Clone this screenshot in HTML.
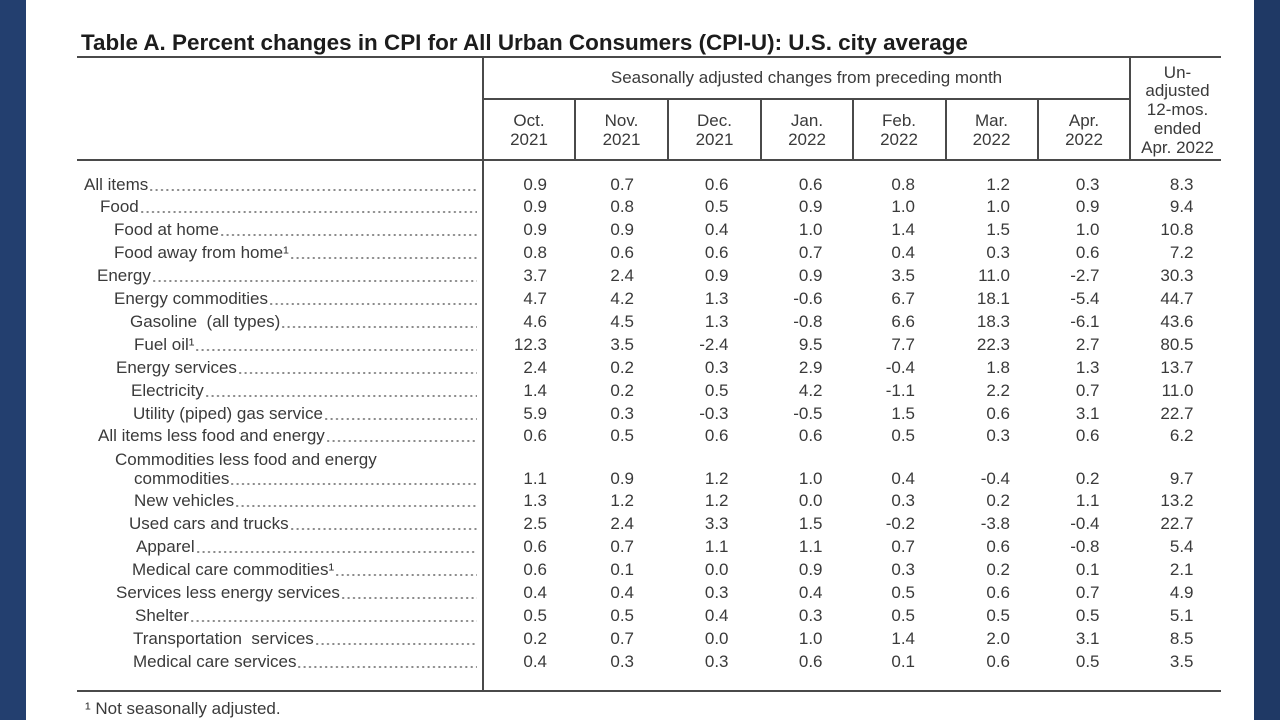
<!DOCTYPE html>
<html>
<head>
<meta charset="utf-8">
<style>
html,body{margin:0;padding:0}
body{width:1280px;height:720px;position:relative;overflow:hidden;background:#fff;font-family:"Liberation Sans",Arial,sans-serif;color:#3a3a3a}
.bandL{position:absolute;left:0;top:0;width:26px;height:720px;background:#233f6f}
.bandR{position:absolute;left:1254px;top:0;width:26px;height:720px;background:#1f3965}
.h{position:absolute;background:#4a4a4a;height:2px}
.vl{position:absolute;background:#4a4a4a;width:2px}
.title{position:absolute;left:81px;top:30px;font-size:22.45px;font-weight:bold;color:#1c1c1c;white-space:nowrap;line-height:26px}
.t{position:absolute;font-size:17px;line-height:19px;white-space:nowrap;text-align:center}
.r{position:absolute;left:0;width:1280px;height:20px;line-height:20px;font-size:17px}
.lab{position:absolute;top:0;height:20px;display:flex;align-items:flex-end;right:803px}
.lab span{white-space:nowrap;line-height:20px}
.lab i{flex:1;height:2px;margin:0 0 4px 2px;background:radial-gradient(circle at 1.2px 1px,#8a8a8a 0.9px,transparent 1.4px) repeat-x;background-size:5.4px 2px}
.r b{position:absolute;top:0;font-weight:normal}
.c1{right:733px}.c2{right:646px}.c3{right:551.5px}.c4{right:457.5px}
.c5{right:365px}.c6{right:270px}.c7{right:180.5px}.c8{right:86.5px}
.foot{position:absolute;left:85px;top:699px;font-size:17px;line-height:20px;white-space:nowrap}
</style>
</head>
<body>
<div class="bandL"></div>
<div class="bandR"></div>

<div class="title">Table A. Percent changes in CPI for All Urban Consumers (CPI-U): U.S. city average</div>

<!-- lines -->
<div class="h" style="left:77px;top:56px;width:1144px"></div>
<div class="vl" style="left:482px;top:56px;height:635px"></div>
<div class="vl" style="left:1129px;top:56px;height:104px"></div>
<div class="h" style="left:482px;top:97.5px;width:648px"></div>
<div class="vl" style="left:574px;top:98px;height:62px"></div>
<div class="vl" style="left:667px;top:98px;height:62px"></div>
<div class="vl" style="left:760px;top:98px;height:62px"></div>
<div class="vl" style="left:852px;top:98px;height:62px"></div>
<div class="vl" style="left:944.5px;top:98px;height:62px"></div>
<div class="vl" style="left:1037px;top:98px;height:62px"></div>
<div class="h" style="left:77px;top:158.5px;width:1144px"></div>
<div class="h" style="left:77px;top:689.5px;width:1144px"></div>

<!-- header text -->
<div class="t" style="left:483px;width:647px;top:67.5px">Seasonally adjusted changes from preceding month</div>
<div class="t" style="left:483px;width:92px;top:110.5px">Oct.<br>2021</div>
<div class="t" style="left:575px;width:93px;top:110.5px">Nov.<br>2021</div>
<div class="t" style="left:668px;width:93px;top:110.5px">Dec.<br>2021</div>
<div class="t" style="left:761px;width:92px;top:110.5px">Jan.<br>2022</div>
<div class="t" style="left:853px;width:92px;top:110.5px">Feb.<br>2022</div>
<div class="t" style="left:945px;width:93px;top:110.5px">Mar.<br>2022</div>
<div class="t" style="left:1038px;width:92px;top:110.5px">Apr.<br>2022</div>
<div class="t" style="left:1131px;width:93px;top:63.5px;line-height:18.8px">Un-<br>adjusted<br>12-mos.<br>ended<br>Apr. 2022</div>

<!-- rows -->
<div class="r" style="top:174.5px"><div class="lab" style="left:84px"><span>All items</span><i></i></div><b class="c1">0.9</b><b class="c2">0.7</b><b class="c3">0.6</b><b class="c4">0.6</b><b class="c5">0.8</b><b class="c6">1.2</b><b class="c7">0.3</b><b class="c8">8.3</b></div>
<div class="r" style="top:197.4px"><div class="lab" style="left:100px"><span>Food</span><i></i></div><b class="c1">0.9</b><b class="c2">0.8</b><b class="c3">0.5</b><b class="c4">0.9</b><b class="c5">1.0</b><b class="c6">1.0</b><b class="c7">0.9</b><b class="c8">9.4</b></div>
<div class="r" style="top:220.3px"><div class="lab" style="left:114px"><span>Food at home</span><i></i></div><b class="c1">0.9</b><b class="c2">0.9</b><b class="c3">0.4</b><b class="c4">1.0</b><b class="c5">1.4</b><b class="c6">1.5</b><b class="c7">1.0</b><b class="c8">10.8</b></div>
<div class="r" style="top:243.2px"><div class="lab" style="left:114px"><span>Food away from home¹</span><i></i></div><b class="c1">0.8</b><b class="c2">0.6</b><b class="c3">0.6</b><b class="c4">0.7</b><b class="c5">0.4</b><b class="c6">0.3</b><b class="c7">0.6</b><b class="c8">7.2</b></div>
<div class="r" style="top:266.1px"><div class="lab" style="left:97px"><span>Energy</span><i></i></div><b class="c1">3.7</b><b class="c2">2.4</b><b class="c3">0.9</b><b class="c4">0.9</b><b class="c5">3.5</b><b class="c6">11.0</b><b class="c7">-2.7</b><b class="c8">30.3</b></div>
<div class="r" style="top:289px"><div class="lab" style="left:114px"><span>Energy commodities</span><i></i></div><b class="c1">4.7</b><b class="c2">4.2</b><b class="c3">1.3</b><b class="c4">-0.6</b><b class="c5">6.7</b><b class="c6">18.1</b><b class="c7">-5.4</b><b class="c8">44.7</b></div>
<div class="r" style="top:311.9px"><div class="lab" style="left:130px"><span>Gasoline&nbsp; (all types)</span><i></i></div><b class="c1">4.6</b><b class="c2">4.5</b><b class="c3">1.3</b><b class="c4">-0.8</b><b class="c5">6.6</b><b class="c6">18.3</b><b class="c7">-6.1</b><b class="c8">43.6</b></div>
<div class="r" style="top:334.8px"><div class="lab" style="left:134px"><span>Fuel oil¹</span><i></i></div><b class="c1">12.3</b><b class="c2">3.5</b><b class="c3">-2.4</b><b class="c4">9.5</b><b class="c5">7.7</b><b class="c6">22.3</b><b class="c7">2.7</b><b class="c8">80.5</b></div>
<div class="r" style="top:357.7px"><div class="lab" style="left:116px"><span>Energy services</span><i></i></div><b class="c1">2.4</b><b class="c2">0.2</b><b class="c3">0.3</b><b class="c4">2.9</b><b class="c5">-0.4</b><b class="c6">1.8</b><b class="c7">1.3</b><b class="c8">13.7</b></div>
<div class="r" style="top:380.6px"><div class="lab" style="left:131px"><span>Electricity</span><i></i></div><b class="c1">1.4</b><b class="c2">0.2</b><b class="c3">0.5</b><b class="c4">4.2</b><b class="c5">-1.1</b><b class="c6">2.2</b><b class="c7">0.7</b><b class="c8">11.0</b></div>
<div class="r" style="top:403.5px"><div class="lab" style="left:133px"><span>Utility (piped) gas service</span><i></i></div><b class="c1">5.9</b><b class="c2">0.3</b><b class="c3">-0.3</b><b class="c4">-0.5</b><b class="c5">1.5</b><b class="c6">0.6</b><b class="c7">3.1</b><b class="c8">22.7</b></div>
<div class="r" style="top:426.4px"><div class="lab" style="left:98px"><span>All items less food and energy</span><i></i></div><b class="c1">0.6</b><b class="c2">0.5</b><b class="c3">0.6</b><b class="c4">0.6</b><b class="c5">0.5</b><b class="c6">0.3</b><b class="c7">0.6</b><b class="c8">6.2</b></div>
<div class="r" style="top:450px"><div class="lab" style="left:115px"><span>Commodities less food and energy</span></div></div>
<div class="r" style="top:468.5px"><div class="lab" style="left:134px"><span>commodities</span><i></i></div><b class="c1">1.1</b><b class="c2">0.9</b><b class="c3">1.2</b><b class="c4">1.0</b><b class="c5">0.4</b><b class="c6">-0.4</b><b class="c7">0.2</b><b class="c8">9.7</b></div>
<div class="r" style="top:491.4px"><div class="lab" style="left:134px"><span>New vehicles</span><i></i></div><b class="c1">1.3</b><b class="c2">1.2</b><b class="c3">1.2</b><b class="c4">0.0</b><b class="c5">0.3</b><b class="c6">0.2</b><b class="c7">1.1</b><b class="c8">13.2</b></div>
<div class="r" style="top:514.3px"><div class="lab" style="left:129px"><span>Used cars and trucks</span><i></i></div><b class="c1">2.5</b><b class="c2">2.4</b><b class="c3">3.3</b><b class="c4">1.5</b><b class="c5">-0.2</b><b class="c6">-3.8</b><b class="c7">-0.4</b><b class="c8">22.7</b></div>
<div class="r" style="top:537.2px"><div class="lab" style="left:136px"><span>Apparel</span><i></i></div><b class="c1">0.6</b><b class="c2">0.7</b><b class="c3">1.1</b><b class="c4">1.1</b><b class="c5">0.7</b><b class="c6">0.6</b><b class="c7">-0.8</b><b class="c8">5.4</b></div>
<div class="r" style="top:560.1px"><div class="lab" style="left:132px"><span>Medical care commodities¹</span><i></i></div><b class="c1">0.6</b><b class="c2">0.1</b><b class="c3">0.0</b><b class="c4">0.9</b><b class="c5">0.3</b><b class="c6">0.2</b><b class="c7">0.1</b><b class="c8">2.1</b></div>
<div class="r" style="top:583px"><div class="lab" style="left:116px"><span>Services less energy services</span><i></i></div><b class="c1">0.4</b><b class="c2">0.4</b><b class="c3">0.3</b><b class="c4">0.4</b><b class="c5">0.5</b><b class="c6">0.6</b><b class="c7">0.7</b><b class="c8">4.9</b></div>
<div class="r" style="top:605.9px"><div class="lab" style="left:135px"><span>Shelter</span><i></i></div><b class="c1">0.5</b><b class="c2">0.5</b><b class="c3">0.4</b><b class="c4">0.3</b><b class="c5">0.5</b><b class="c6">0.5</b><b class="c7">0.5</b><b class="c8">5.1</b></div>
<div class="r" style="top:628.8px"><div class="lab" style="left:133px"><span>Transportation&nbsp; services</span><i></i></div><b class="c1">0.2</b><b class="c2">0.7</b><b class="c3">0.0</b><b class="c4">1.0</b><b class="c5">1.4</b><b class="c6">2.0</b><b class="c7">3.1</b><b class="c8">8.5</b></div>
<div class="r" style="top:651.7px"><div class="lab" style="left:133px"><span>Medical care services</span><i></i></div><b class="c1">0.4</b><b class="c2">0.3</b><b class="c3">0.3</b><b class="c4">0.6</b><b class="c5">0.1</b><b class="c6">0.6</b><b class="c7">0.5</b><b class="c8">3.5</b></div>

<div class="foot">¹ Not seasonally adjusted.</div>
</body>
</html>
